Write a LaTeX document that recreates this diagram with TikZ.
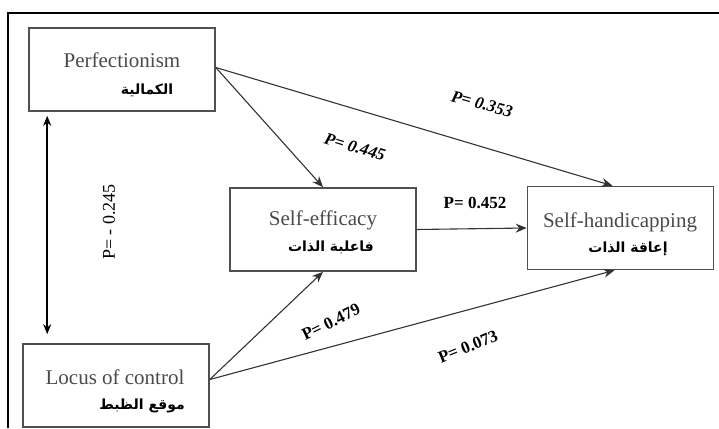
\documentclass[tikz,border=0pt]{standalone}
\usepackage{fontspec}
\setmainfont{Liberation Serif}
\newfontfamily\arabicfont[Script=Arabic]{DejaVu Sans}
\TeXXeTstate=1
\usetikzlibrary{arrows.meta}
\definecolor{boxgray}{HTML}{505050}
\definecolor{txtgray}{HTML}{4A4A4A}
\definecolor{arrgray}{HTML}{333333}
\tikzset{
  varbox/.style={draw=boxgray, line width=1.6pt, minimum width=186pt, minimum height=83pt, inner sep=0pt},
  entxt/.style={text=txtgray, font=\fontsize{21}{24}\selectfont, inner sep=0pt},
  artxt/.style={text=black, font=\arabicfont\bfseries\fontsize{14}{16}\selectfont, inner sep=0pt},
  plabel/.style={font=\bfseries\fontsize{17}{20}\selectfont, inner sep=0pt},
  pilabel/.style={font=\bfseries\itshape\fontsize{17}{20}\selectfont, inner sep=0pt},
  conn/.style={draw=arrgray, line width=1.1pt, -{Stealth[length=11pt,width=9pt]}},
}
\begin{document}
\begin{tikzpicture}[x=1pt,y=-1pt]
\useasboundingbox (0,0) rectangle (719,428);
% outer frame
\draw[line width=2pt, black] (8,428) -- (8,13) -- (719,13);
% boxes
\node[varbox] (P) at (122,69.5) {};
\node[varbox] (L) at (116,385.5) {};
\node[varbox] (SE) at (323,229.5) {};
\node[varbox] (SH) at (620.5,228) {};
% texts
\node[entxt] (Pt) at (122,60) {Perfectionism};
\node[artxt] (Pa) at (147,90) {\beginR الكمالية\endR};
\node[entxt] (Lt) at (115,377) {Locus of control};
\node[artxt] (La) at (142,406) {\beginR موقع الظبط\endR};
\node[entxt] (SEt) at (323,220) {Self-efficacy};
\node[artxt] (SEa) at (331,247) {\beginR فاعلبة الذات\endR};
\node[entxt] (SHt) at (620,222) {Self-handicapping};
\node[artxt] (SHa) at (628,249) {\beginR إعاقة الذات\endR};
% connectors
\draw[conn] ([yshift=2pt]P.east) -- (SE.north);
\draw[conn] ([yshift=2pt]P.east) -- ([xshift=-8pt]SH.north);
\draw[conn] (SE.east) -- (SH.west);
\draw[conn] ([yshift=6pt]L.east) -- (SE.south);
\draw[conn] ([yshift=6pt]L.east) -- ([xshift=-6pt]SH.south);
\draw[line width=2pt, black, {Stealth[length=10pt,width=8pt]}-{Stealth[length=10pt,width=8pt]}, shorten <=4pt, shorten >=9pt] ([xshift=19pt]P.south west) -- ([xshift=25pt]L.north west);
% labels
\node[pilabel, rotate=-15] (l353) at (482,104) {P= 0.353};
\node[pilabel, rotate=-17] (l445) at (355,147) {P= 0.445};
\node[plabel] (l452) at (475,203) {P= 0.452};
\node[plabel, rotate=26] (l479) at (331,322) {P= 0.479};
\node[plabel, rotate=22] (l073) at (468,347) {P= 0.073};
\node[font=\fontsize{18}{20}\selectfont, inner sep=0pt, rotate=90] (l245) at (109,222) {P= - 0.245};
\end{tikzpicture}
\end{document}
